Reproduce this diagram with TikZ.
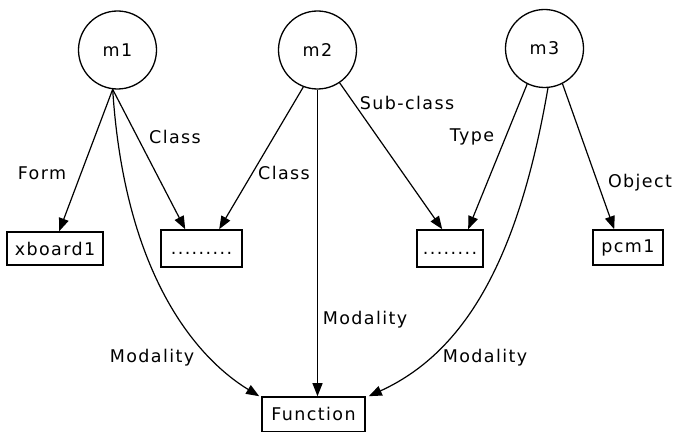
\documentclass[tikz,border=0pt]{standalone}
\usepackage{fontspec}
\setmainfont[LetterSpace=8]{DejaVu Sans}
\usetikzlibrary{arrows.meta}
\begin{document}
\begin{tikzpicture}[x=1pt,y=-1pt,font=\fontsize{17.5}{20}\selectfont,
  mnode/.style={draw,circle,minimum size=78pt,inner sep=0pt,line width=1.3pt},
  boxnode/.style={draw,rectangle,line width=1.6pt,inner sep=0pt},
  arr/.style={-{Triangle[length=13pt,width=10pt]},line width=1.2pt},
  lbl/.style={inner sep=0pt}]
\useasboundingbox (0,0) rectangle (676,433);
% circles
\node[mnode] (m1) at (117.5,50) {m1};
\node[mnode] (m2) at (317.5,50) {m2};
\node[mnode] (m3) at (544.5,48.5) {m3};
% boxes
\node[boxnode,minimum width=96pt,minimum height=33pt] (xb) at (55,248.5) {xboard1};
\node[boxnode,minimum width=81pt,minimum height=37pt] (b2) at (201.5,248.5) {\vphantom{X}.........};
\node[boxnode,minimum width=66pt,minimum height=37pt] (b3) at (450,248.5) {\vphantom{X}........};
\node[boxnode,minimum width=70pt,minimum height=35pt] (pcm) at (628,247.5) {pcm1};
\node[boxnode,minimum width=103pt,minimum height=34.5pt] (fn) at (313.5,414.25) {Function};
% arrows
\draw[arr] (m1.263) -- ([xshift=53pt]xb.north west);
\draw[arr] (m1.263) -- ([xshift=25pt]b2.north west);
\draw[arr] (m2.249) -- ([xshift=59pt]b2.north west);
\draw[arr] (m2.270) -- (m2.270 |- fn.north);
\draw[arr] (m2.304) -- ([xshift=26pt]b3.north west);
\draw[arr] (m3.244) -- ([xshift=52pt]b3.north west);
\draw[arr] (m3.297) -- ([xshift=22pt]pcm.north west);
\draw[arr] (m1.263) .. controls (125,280) and (200,360) .. ([xshift=-2pt]fn.north west);
\draw[arr] (m3.275) .. controls (520,250) and (470,350) .. ([xshift=3pt]fn.north east);
% labels
\node[lbl] (lform) at (42,173) {Form};
\node[lbl] (lclass1) at (175,137) {Class};
\node[lbl] (lclass2) at (284,173) {Class};
\node[lbl] (lsub) at (407,103) {Sub-class};
\node[lbl] (ltype) at (472,137) {Type};
\node[lbl] (lobj) at (640,183) {Object};
\node[lbl] (lmodm) at (365,320) {Modality};
\node[lbl] (lmodl) at (152,358) {Modality};
\node[lbl] (lmodr) at (485,358) {Modality};
\end{tikzpicture}
\end{document}
